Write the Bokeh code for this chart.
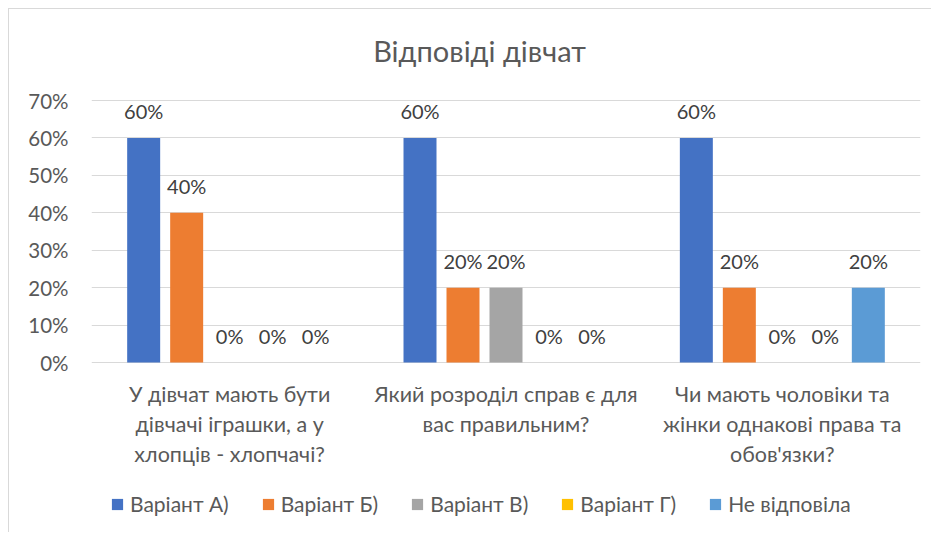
from bokeh.plotting import figure
from bokeh.models import (ColumnDataSource, FactorRange, Range1d, FixedTicker,
                          NumeralTickFormatter, LabelSet, Label, Legend, LegendItem)
from bokeh.transform import dodge
from bokeh.core.properties import value
from bokeh.embed import file_html
from bokeh.resources import INLINE

# ---- data ----
categories = [
    "У дівчат мають бути\nдівчачі іграшки, а у\nхлопців - хлопчачі?",
    "Який розроділ справ є для\nвас правильним?",
    "Чи мають чоловіки та\nжінки однакові права та\nобов'язки?",
]
series_names = ["Варіант А)", "Варіант Б)", "Варіант В)", "Варіант Г)", "Не відповіла"]
var_a = [0.6, 0.6, 0.6]
var_b = [0.4, 0.2, 0.2]
var_v = [0.0, 0.2, 0.0]
var_g = [0.0, 0.0, 0.0]
no_answer = [0.0, 0.0, 0.2]
series_values = [var_a, var_b, var_v, var_g, no_answer]
colors = ["#4472C4", "#ED7D31", "#A5A5A5", "#FFC000", "#5B9BD5"]
y_ticks = [0, 0.1, 0.2, 0.3, 0.4, 0.5, 0.6, 0.7]
title_text = "Відповіді дівчат"

FONT = "Lato"
GREY = "#595959"

# layout (pixels)
W, H = 923, 524
TOP, LEFT, RIGHT = 91, 82, 12     # pixels above the 70% line, left/right of plot band
PLOT_H = 262                      # pixel height of the 0..70% band
y_max = y_ticks[-1]
per_px = y_max / PLOT_H
range_top = y_max + TOP * per_px
range_bottom = -(H - TOP - PLOT_H) * per_px

data = {"cat": categories, "zero": [0.0] * len(categories)}
for i, vals in enumerate(series_values):
    data[f"s{i}"] = vals
    data[f"l{i}"] = [f"{round(v * 100)}%" for v in vals]
split = [c.split("\n") for c in categories]
n_lines = max(len(s) for s in split)
for j in range(n_lines):
    data[f"line{j}"] = [s[j] if j < len(s) else "" for s in split]
source = ColumnDataSource(data)

p = figure(
    title=None,
    x_range=FactorRange(*categories),
    y_range=Range1d(range_bottom, range_top),
    width=W, height=H,
    output_backend="svg", toolbar_location=None,
    min_border_left=LEFT, min_border_right=RIGHT, min_border_top=0, min_border_bottom=0,
    background_fill_color="white", border_fill_color="white",
)
p.styles = {"margin-left": "8px", "margin-top": "8px",
            "border-left": "1px solid #d9d9d9", "border-top": "1px solid #d9d9d9"}
p.outline_line_color = None

# chart title (centred on the whole chart box, 50px above the 70% line)
title = Label(x=(479 - 91) / 276.33, y=y_max + 50 * per_px, text=title_text,
              text_align="center", text_baseline="middle", text_font=FONT,
              text_font_size="29px", text_color=GREY)
p.add_layout(title)

step = 0.1556
bar_w = 0.1194
items = []
for i, name in enumerate(series_names):
    off = (i - 2) * step
    r = p.vbar(x=dodge("cat", off, range=p.x_range), top=f"s{i}", width=bar_w,
               source=source, fill_color=colors[i], line_color=None)
    items.append(LegendItem(label=name, renderers=[r]))
    labels = LabelSet(x=dodge("cat", off, range=p.x_range), y=f"s{i}", text=f"l{i}",
                      source=source, text_align="center", text_baseline="alphabetic",
                      y_offset=19, text_font=value(FONT), text_font_size="20px",
                      text_color="#404040")
    p.add_layout(labels)

# category labels below the 0% line, each line centred
for j in range(n_lines):
    cat_labels = LabelSet(x="cat", y="zero", text=f"line{j}", source=source,
                          text_align="center", text_baseline="middle",
                          y_offset=-(31 + 30 * j),
                          text_font=value(FONT), text_font_size="21.5px",
                          text_color=GREY)
    p.add_layout(cat_labels)

# axes
p.yaxis.ticker = FixedTicker(ticks=y_ticks)
p.yaxis.formatter = NumeralTickFormatter(format="0%")
p.yaxis.axis_line_color = None
p.yaxis.major_tick_line_color = None
p.yaxis.minor_tick_line_color = None
p.yaxis.major_label_text_font = FONT
p.yaxis.major_label_text_font_size = "20.5px"
p.yaxis.major_label_text_color = GREY
p.yaxis.major_label_standoff = 17
p.xaxis.visible = False

p.xgrid.grid_line_color = None
p.ygrid.grid_line_color = "#d9d9d9"
p.ygrid.grid_line_width = 1

legend = Legend(items=items, orientation="horizontal", location=(19, 17),
                glyph_width=14, glyph_height=14, label_standoff=6, spacing=32,
                label_text_font=FONT, label_text_font_size="21px", label_text_color=GREY,
                border_line_color=None, background_fill_alpha=0, padding=0, margin=0)
p.add_layout(legend, "center")

open("out.html", "w").write(file_html(p, INLINE))
